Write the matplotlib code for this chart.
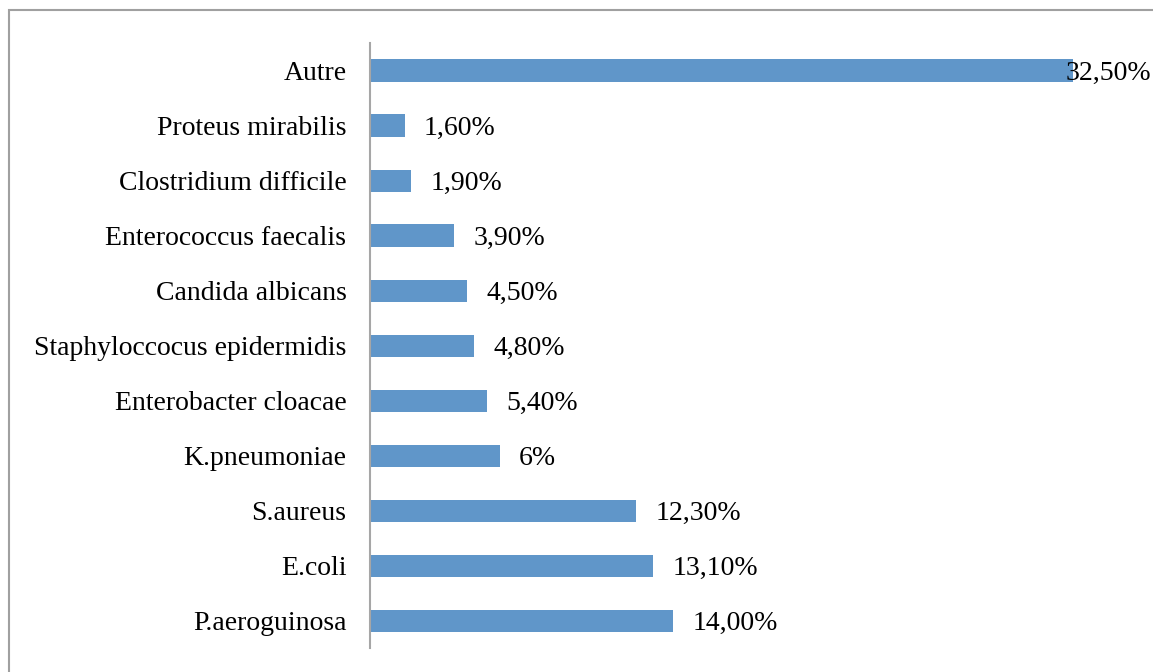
import matplotlib
matplotlib.use('Agg')
import matplotlib.pyplot as plt
import matplotlib.patches as mpatches

species = ['P.aeroguinosa', 'E.coli', 'S.aureus', 'K.pneumoniae',
           'Enterobacter cloacae', 'Staphyloccocus epidermidis',
           'Candida albicans', 'Enterococcus faecalis',
           'Clostridium difficile', 'Proteus mirabilis', 'Autre']
values = [14.0, 13.1, 12.3, 6.0, 5.4, 4.8, 4.5, 3.9, 1.9, 1.6, 32.5]
labels = ['14,00%', '13,10%', '12,30%', '6%', '5,40%', '4,80%',
          '4,50%', '3,90%', '1,90%', '1,60%', '32,50%']

W, H = 1153, 672
fig = plt.figure(figsize=(W / 100, H / 100), dpi=100)
plt.rcParams['font.family'] = ['Liberation Serif', 'DejaVu Serif']
fs = 20

# gray outer frame (right and bottom edges fall outside the picture)
fig.patches.append(mpatches.Rectangle((8.5 / W, -0.1), 1.2, 1 - 9.5 / H + 0.1,
                                      transform=fig.transFigure, fill=False,
                                      edgecolor='#a0a0a0', linewidth=1.5))

left, right = 370 / W, 1073 / W
top, bottom = 43 / H, 648 / H
ax = fig.add_axes([left, 1 - bottom, right - left, bottom - top])

y = range(len(species))
ax.barh(y, values, height=0.4, color='#6096C9')
ax.set_xlim(0, 32.5)
ax.set_ylim(-0.5, len(species) - 0.5)

for i, (v, lab) in enumerate(zip(values, labels)):
    if v > 30:
        ax.annotate(lab, (v, i), xytext=(-5, 0), textcoords='offset points',
                    va='center_baseline', ha='left', fontsize=fs,
                    annotation_clip=False)
    else:
        ax.annotate(lab, (v, i), xytext=(14, 0), textcoords='offset points',
                    va='center_baseline', ha='left', fontsize=fs)

ax.set_yticks(list(y))
ax.set_yticklabels(species, fontsize=fs, va='center_baseline')
ax.tick_params(axis='y', length=0, pad=17)
ax.set_xticks([])
for s in ['top', 'right', 'bottom']:
    ax.spines[s].set_visible(False)
ax.spines['left'].set_color('#a6a6a6')
ax.spines['left'].set_linewidth(1.5)

plt.savefig('out.png', dpi=100)
